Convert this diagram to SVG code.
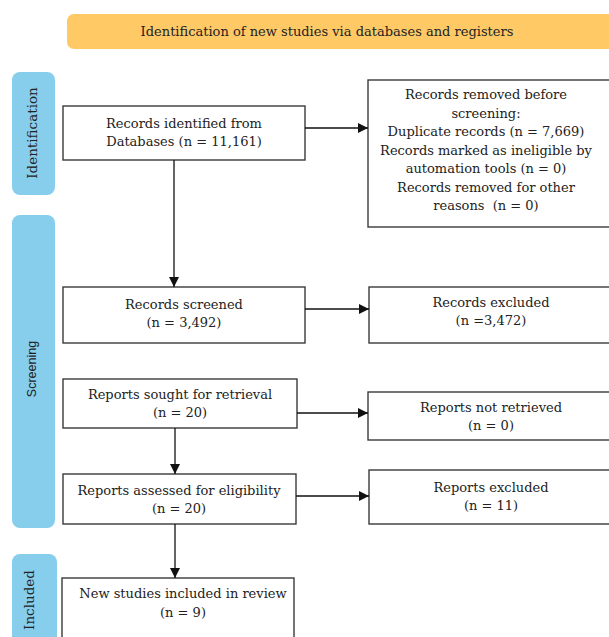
<svg xmlns="http://www.w3.org/2000/svg" width="609" height="637" viewBox="0 0 609 637">
<defs>
<marker id="arr" markerUnits="userSpaceOnUse" markerWidth="11" markerHeight="11" refX="10" refY="5" orient="auto">
<path d="M0,0 L10,5 L0,10 Z" fill="#111"/>
</marker>
<style>
.box{fill:#fff;stroke:#3a3a3a;stroke-width:1.4}
.side{fill:#87CDEC}
.t{font-family:"DejaVu Serif","Liberation Serif",serif;font-size:13px;fill:#222;text-anchor:middle}
.s{font-family:"DejaVu Serif","Liberation Serif",serif;font-size:13.5px;fill:#222;text-anchor:middle}
.ss{font-family:"Liberation Sans",Arial,sans-serif;font-size:12.5px;fill:#222;text-anchor:middle}
.c{stroke:#111;stroke-width:1.3;fill:none;marker-end:url(#arr)}
</style>
</defs>
<rect width="609" height="637" fill="#fff"/>
<g id="header">
<rect x="67" y="14" width="560" height="35" rx="7" fill="#FFC966"/>
<text class="t" x="327" y="36" font-size="11.6">Identification of new studies via databases and registers</text>
</g>
<g id="lbl-identification">
<rect class="side" x="12" y="72" width="43" height="123" rx="8"/>
<text class="s" transform="translate(37,133) rotate(-90)">Identification</text>
</g>
<g id="lbl-screening">
<rect class="side" x="12" y="215" width="43" height="313" rx="8"/>
<text class="ss" transform="translate(36,369) rotate(-90)">Screening</text>
</g>
<g id="lbl-included">
<rect class="side" x="12" y="554" width="45" height="100" rx="8"/>
<text class="s" transform="translate(34,600) rotate(-90)">Included</text>
</g>
<g id="n-identified">
<rect class="box" x="63" y="106" width="242" height="54"/>
<text class="t" x="184" y="128">Records identified from</text>
<text class="t" x="184" y="146">Databases (n = 11,161)</text>
</g>
<g id="n-removed">
<rect class="box" x="368" y="80" width="250" height="147"/>
<text class="t" x="486" y="99">Records removed before</text>
<text class="t" x="486" y="117.5">screening:</text>
<text class="t" x="486" y="136">Duplicate records (n = 7,669)</text>
<text class="t" x="486" y="154.5">Records marked as ineligible by</text>
<text class="t" x="486" y="173">automation tools (n = 0)</text>
<text class="t" x="486" y="191.5">Records removed for other</text>
<text class="t" x="486" y="210" xml:space="preserve">reasons  (n = 0)</text>
</g>
<g id="n-screened">
<rect class="box" x="63" y="287" width="242" height="56"/>
<text class="t" x="184" y="309">Records screened</text>
<text class="t" x="184" y="327">(n = 3,492)</text>
</g>
<g id="n-excluded">
<rect class="box" x="369" y="287" width="250" height="56"/>
<text class="t" x="491" y="307">Records excluded</text>
<text class="t" x="491" y="325">(n =3,472)</text>
</g>
<g id="n-sought">
<rect class="box" x="63" y="379" width="234" height="49"/>
<text class="t" x="180" y="399">Reports sought for retrieval</text>
<text class="t" x="180" y="417">(n = 20)</text>
</g>
<g id="n-notretrieved">
<rect class="box" x="368" y="392" width="250" height="48"/>
<text class="t" x="491" y="412">Reports not retrieved</text>
<text class="t" x="491" y="430">(n = 0)</text>
</g>
<g id="n-assessed">
<rect class="box" x="63" y="474" width="233" height="50"/>
<text class="t" x="179" y="495">Reports assessed for eligibility</text>
<text class="t" x="179" y="513">(n = 20)</text>
</g>
<g id="n-repexcluded">
<rect class="box" x="369" y="470" width="250" height="54"/>
<text class="t" x="491" y="492">Reports excluded</text>
<text class="t" x="491" y="510">(n = 11)</text>
</g>
<g id="n-included">
<rect class="box" x="62" y="578" width="232" height="70"/>
<text class="t" x="183" y="598">New studies included in review</text>
<text class="t" x="183" y="617">(n = 9)</text>
</g>
<g id="connectors">
<line class="c" x1="305" y1="128" x2="368" y2="128"/>
<line class="c" x1="174" y1="160" x2="174" y2="287"/>
<line class="c" x1="305" y1="309" x2="369" y2="309"/>
<line class="c" x1="297" y1="413" x2="368" y2="413"/>
<line class="c" x1="175" y1="428" x2="175" y2="474"/>
<line class="c" x1="296" y1="496" x2="369" y2="496"/>
<line class="c" x1="175" y1="524" x2="175" y2="578"/>
</g>
</svg>
